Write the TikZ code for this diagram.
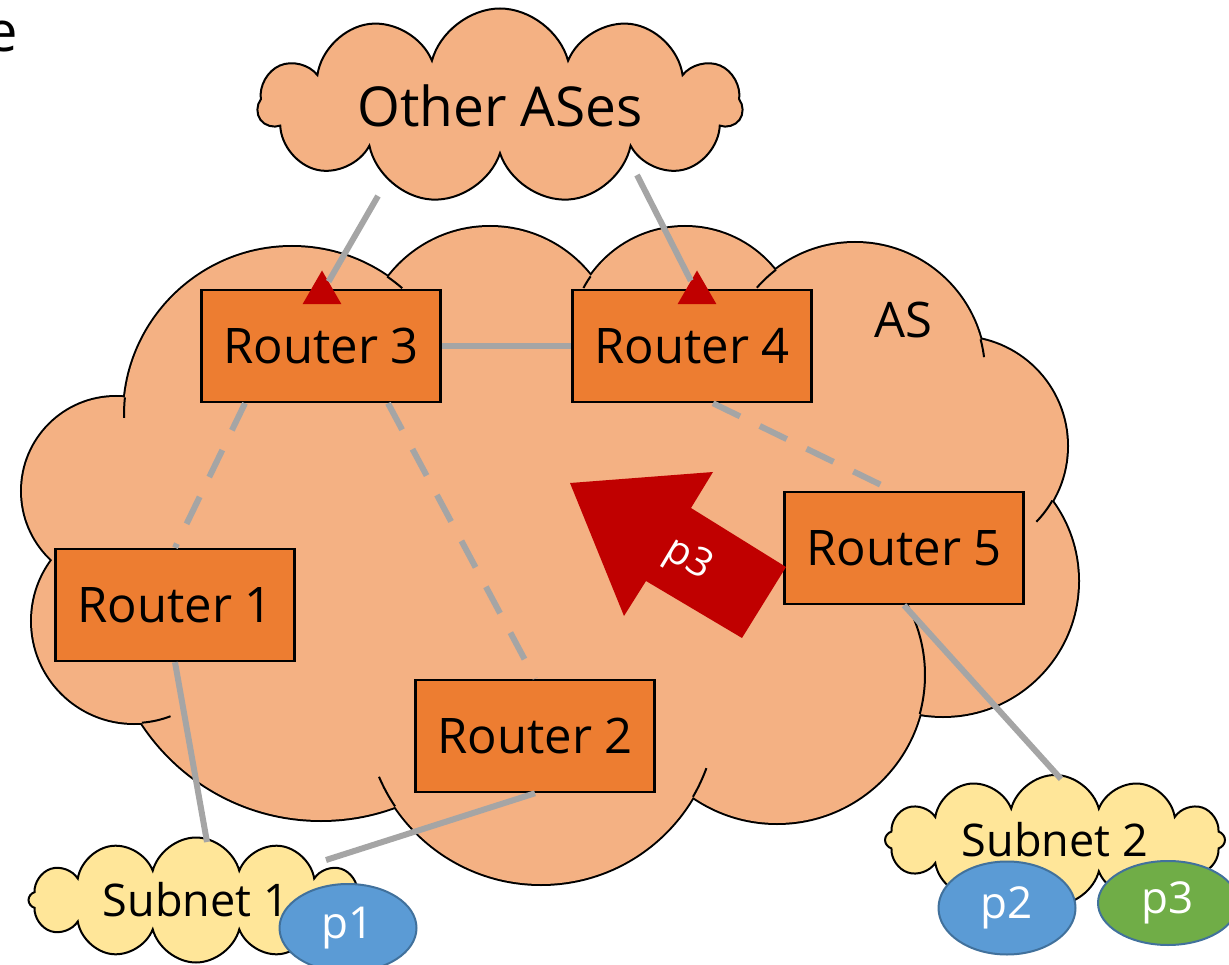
\documentclass[tikz,border=0pt]{standalone}
\usepackage{fontspec}
\setmainfont{Open Sans}
\usetikzlibrary{shapes.symbols,shapes.geometric}
\definecolor{asfill}{HTML}{F4B183}
\definecolor{routerfill}{HTML}{ED7D31}
\definecolor{subnetfill}{HTML}{FFE699}
\definecolor{linkgray}{HTML}{A5A5A5}
\definecolor{darkred}{HTML}{C00000}
\definecolor{pblue}{HTML}{5B9BD5}
\definecolor{pgreen}{HTML}{70AD47}
\definecolor{pborder}{HTML}{41719C}
\tikzset{
  router/.style={draw=black, line width=2.5pt, fill=routerfill, inner sep=0pt,
    minimum width=239pt, minimum height=112pt, font=\fontsize{49}{58}\selectfont},
  ascloud/.style={cloud, cloud ignores aspect, draw=black, line width=2pt, fill=asfill, inner sep=0pt},
  subnet/.style={cloud, cloud ignores aspect, cloud puffs=12, draw=black, line width=2pt, fill=subnetfill,
    inner sep=0pt, minimum width=335pt, minimum height=125pt, font=\fontsize{45}{54}\selectfont},
  pbubble/.style={ellipse, draw=pborder, line width=2pt, inner sep=0pt, text=white,
    minimum width=137pt, minimum height=88pt, font=\fontsize{44}{52}\selectfont},
  uplink/.style={regular polygon, regular polygon sides=3, fill=darkred, inner sep=0pt, minimum size=45pt},
  link/.style={draw=linkgray, line width=6pt},
  ibgp/.style={link, dash pattern=on 30pt off 22pt}
}
\begin{document}
\begin{tikzpicture}[x=1pt,y=-1pt]
\useasboundingbox (0,0) rectangle (1229,965);
\node[anchor=base east, inner sep=0pt, font=\fontsize{56}{64}\selectfont] (cut) at (18,52) {e};
%%% Our AS: one puff per circle, outline first and fill over it
\foreach \cx/\cy/\r in {292/415/168, 490/355/128, 685/342/115, 855/373/130, 958/446/109, 943/581/135,
    777/675/148, 541/708/176, 321/606/214, 134/621/102, 116/491/94}
  \draw[line width=4pt] (\cx,\cy) circle (\r);
\fill[asfill] (126,397) -- (387,277) -- (590,276) -- (777,271) -- (980,339) -- (1051,500) -- (920,714)
  -- (693,797) -- (395,807) -- (142,723) -- (52,560) -- cycle;
\foreach \cx/\cy/\r in {292/415/168, 490/355/128, 685/342/115, 855/373/130, 958/446/109, 943/581/135,
    777/675/148, 541/708/176, 321/606/214, 134/621/102, 116/491/94}
  \fill[asfill] (\cx,\cy) circle (\r);
%%% the short inner arcs of the puffs
\foreach \cx/\cy/\r/\a/\b in {292/415/168/186/179, 292/415/168/304.5/311, 685/342/115/214.8/208,
    855/373/130/232.6/221, 855/373/130/345/353, 958/446/109/30/44, 777/675/148/15.3/-28,
    541/708/176/30.3/20, 541/708/176/146/157, 134/621/102/85.5/69}
  \draw[line width=2pt] (\cx,\cy) ++(\a:\r) arc[start angle=\a, end angle=\b, radius=\r];
\node[font=\fontsize{49}{58}\selectfont] (aslabel) at (903,320) {AS};
%%% The other ASes
\node[ascloud, cloud puffs=11, minimum width=484pt, minimum height=195pt,
  font=\fontsize{55}{64}\selectfont] (oas) at (500,106) {Other ASes};
\coordinate (oasL) at (378,196);
\coordinate (oasR) at (637,175);
%%% The routers
\node[router] (r3) at (321,346) {Router 3};
\node[router] (r4) at (692,346) {Router 4};
\node[router] (r1) at (175,605) {Router 1};
\node[router] (r2) at (535,736) {Router 2};
\node[router] (r5) at (904,548) {Router 5};
\node[uplink] (t3) at (322,293) {};
\node[uplink] (t4) at (697,293) {};
%%% The route for p3 that Router 5 sends on
\fill[darkred] (570,483) -- (713,472) -- (691,508) -- (786,567) -- (742,638) -- (646,581) -- (624,616) -- cycle;
\node[text=white, rotate=-31, font=\fontsize{40}{48}\selectfont] (adv) at (688,560) {p3};
%%% The subnets and their prefixes
\node[subnet] (sub1) at (196,900) {Subnet 1};
\node[subnet, minimum width=340pt, minimum height=130pt] (sub2) at (1055,840) {Subnet 2};
\node[pbubble, fill=pblue] (p1) at (348,928) {p1};
\node[pbubble, fill=pblue, minimum height=93pt] (p2) at (1007,908) {p2};
\node[pbubble, fill=pgreen, minimum width=140pt, minimum height=84pt] (p3) at (1168,903) {p3};
\coordinate (sub1top) at (207,842);
\coordinate (sub1right) at (326,860);
\coordinate (sub2top) at (1061,779);
%%% The links
\draw[link] (oasL) -- (t3);
\draw[link] (oasR) -- (t4);
\draw[link] (r3) -- (r4);
\draw[ibgp] ([xshift=-76pt]r3.south) -- (r1.north);
\draw[ibgp] ([xshift=67pt]r3.south) -- (r2.north);
\draw[ibgp] ([xshift=21pt]r4.south) -- ([xshift=-11pt]r5.north);
\draw[link] (r1.south) -- (sub1top);
\draw[link] (r2.south) -- (sub1right);
\draw[link] (r5.south) -- (sub2top);
\end{tikzpicture}
\end{document}
